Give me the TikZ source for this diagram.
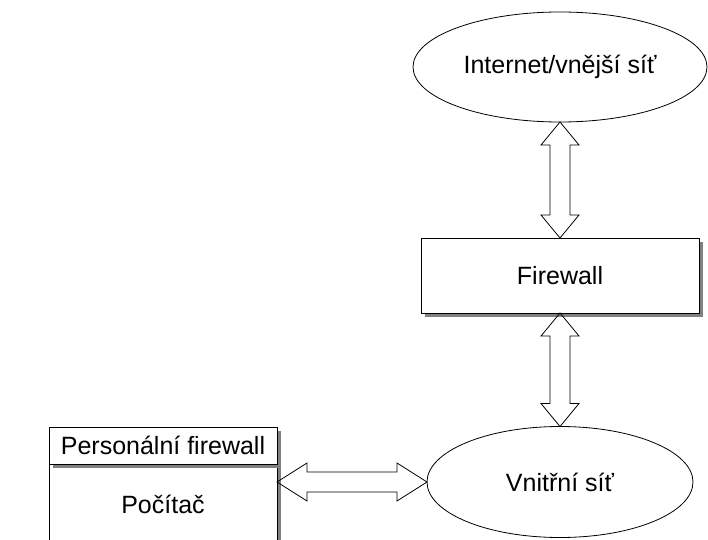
\documentclass[tikz,border=0pt]{standalone}
\usepackage{fontspec}
\setmainfont{Liberation Sans}
\usetikzlibrary{calc,positioning,shapes.geometric,shadows}
\tikzstyle{box}=[rectangle,draw,line width=0.8pt,fill=white,inner sep=0pt,outer sep=0pt,drop shadow={shadow xshift=3.5pt,shadow yshift=-3.5pt,fill=gray,opacity=1}]
\tikzstyle{net}=[ellipse,draw,line width=0.8pt,fill=white,inner sep=0pt,outer sep=0pt]
\tikzset{along/.style={shift={(\p1)},rotate=\n1},
	dblarrow/.style={line width=0.8pt,to path={
		let \p1=(\tikztostart), \p2=(\tikztotarget),
		\n1={atan2(\y2-\y1,\x2-\x1)}, \n2={veclen(\x2-\x1,\y2-\y1)} in
		([along]0,0) -- ([along]#1,19) -- ([along]#1,10) -- ([along]\n2-#1,10)
		-- ([along]\n2-#1,19) -- ([along]\n2,0) -- ([along]\n2-#1,-19)
		-- ([along]\n2-#1,-10) -- ([along]#1,-10) -- ([along]#1,-19) -- cycle}},
	dblarrow/.default=23}

\begin{document}
\begin{tikzpicture}[x=1pt,y=1pt,font=\fontsize{25}{30}\selectfont]
	\useasboundingbox (0,0) rectangle (708,539);
	\clip (0,0) rectangle (708,539);

	\node[net, minimum width=294pt, minimum height=110pt] (inet) at (560,472) {Internet/vnější síť};
	\node[box, minimum width=278pt, minimum height=75pt] (fw) at (560,263.5) {Firewall};
	\node[net, minimum width=266pt, minimum height=111pt] (lan) at (560,57) {Vnitřní síť};

	% pocitac s osobnim firewallem
	\node[box, minimum width=228pt, minimum height=80pt] (pc) at (163,35) {Počítač};
	\node[box, minimum width=228pt, minimum height=37pt, above=0pt of pc] (pfw) {Personální firewall};

	\draw[dblarrow] (inet.south) to (fw.north);
	\draw[dblarrow] (fw.south) to (lan.north);
	\draw[dblarrow=30] (pc.east |- lan.west) to (lan.west);

\end{tikzpicture}
\end{document}
